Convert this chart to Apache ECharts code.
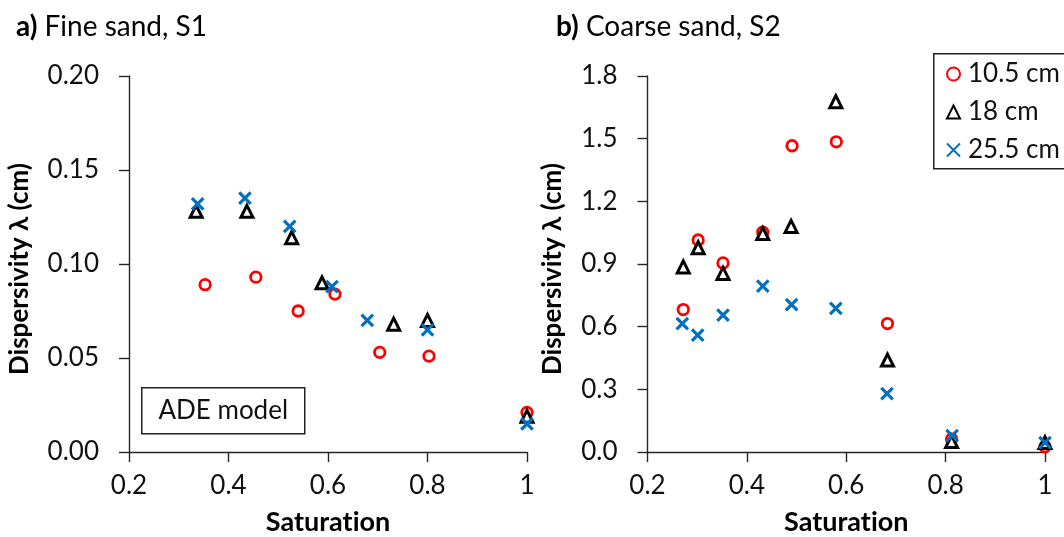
<!DOCTYPE html>
<html>
<head>
<meta charset="utf-8">
<script src="https://cdn.jsdelivr.net/npm/echarts@6/dist/echarts.min.js"></script>
<style>
  html, body { margin: 0; padding: 0; background: #fff; }
  #chart { width: 1064px; height: 537px; }
</style>
</head>
<body>
<div id="chart"></div>
<script>
// Series names (column depth)
const seriesNames = ['10.5 cm', '18 cm', '25.5 cm'];

// a) Fine sand, S1 : saturation / dispersivity (cm)
const fineSat105  = [0.353, 0.455, 0.540, 0.614, 0.704, 0.803, 1.0];
const fineDisp105 = [0.089, 0.093, 0.075, 0.084, 0.053, 0.051, 0.021];
const fineSat18   = [0.335, 0.437, 0.527, 0.588, 0.732, 0.800, 1.0];
const fineDisp18  = [0.128, 0.128, 0.114, 0.090, 0.068, 0.070, 0.019];
const fineSat255  = [0.338, 0.433, 0.523, 0.608, 0.679, 0.800, 1.0];
const fineDisp255 = [0.132, 0.135, 0.120, 0.088, 0.070, 0.065, 0.015];

// b) Coarse sand, S2 : saturation / dispersivity (cm)
const coarseSat105  = [0.272, 0.302, 0.352, 0.432, 0.491, 0.580, 0.683, 0.812, 1.0];
const coarseDisp105 = [0.682, 1.015, 0.905, 1.052, 1.466, 1.485, 0.615, 0.062, 0.025];
const coarseSat18   = [0.272, 0.302, 0.352, 0.432, 0.489, 0.579, 0.683, 0.812, 1.0];
const coarseDisp18  = [0.886, 0.978, 0.855, 1.046, 1.080, 1.677, 0.440, 0.050, 0.045];
const coarseSat255  = [0.270, 0.301, 0.352, 0.432, 0.490, 0.579, 0.682, 0.813, 1.0];
const coarseDisp255 = [0.615, 0.559, 0.655, 0.794, 0.705, 0.688, 0.280, 0.078, 0.045];

// Axis ticks
const satTicks = [0.2, 0.4, 0.6, 0.8, 1];
const fineTicks = [0.00, 0.05, 0.10, 0.15, 0.20];
const coarseTicks = [0.0, 0.3, 0.6, 0.9, 1.2, 1.5, 1.8];

const pairs = (xs, ys) => xs.map((x, i) => [x, ys[i]]);

const FONT = 'Lato, "Open Sans", sans-serif';
const AXIS_COLOR = '#262626';
const TEXT_COLOR = '#111';

const markerStyles = [
  { symbol: 'circle', symbolSize: 10.5,
    itemStyle: { color: '#ffffff', borderColor: '#ff0000', borderWidth: 2.8, opacity: 1 } },
  { symbol: 'triangle', symbolSize: 12,
    itemStyle: { color: '#ffffff', borderColor: '#000000', borderWidth: 3, opacity: 1 } },
  { symbol: 'path://M0,0L10,10M10,0L0,10', symbolSize: 11.5,
    itemStyle: { color: '#0070c0', borderColor: '#0070c0', borderWidth: 3.2, opacity: 1 } }
];

function xAxisFor(gridIndex) {
  return {
    type: 'value', gridIndex,
    min: satTicks[0], max: satTicks[satTicks.length - 1], interval: 0.2,
    // zero-width non-joiner keeps "t" and "i" as separate glyphs
    name: 'Saturat\u200Cion', nameLocation: 'middle', nameGap: 57,
    nameTextStyle: { fontFamily: FONT, fontSize: 27, fontWeight: 'bold', color: '#000' },
    axisLine: { lineStyle: { color: AXIS_COLOR, width: 1.4 } },
    axisTick: { inside: false, length: 10, lineStyle: { color: AXIS_COLOR, width: 1.4 } },
    axisLabel: {
      margin: 21, fontFamily: FONT, fontSize: 26, color: TEXT_COLOR,
      formatter: v => String(parseFloat(v.toFixed(1)))
    },
    splitLine: { show: false }
  };
}

function yAxisFor(gridIndex, ticks, decimals, nameGap) {
  return {
    type: 'value', gridIndex,
    min: ticks[0], max: ticks[ticks.length - 1], interval: ticks[1] - ticks[0],
    name: 'Dispersivity λ (cm)', nameLocation: 'middle', nameGap,
    nameTextStyle: { fontFamily: FONT, fontSize: 26, fontWeight: 'bold', color: '#000', padding: [0, 10, 0, 0] },
    axisLine: { show: true, lineStyle: { color: AXIS_COLOR, width: 1.4 } },
    axisTick: { show: true, inside: false, length: 10, lineStyle: { color: AXIS_COLOR, width: 1.4 } },
    axisLabel: {
      margin: 30, fontFamily: FONT, fontSize: 26, color: TEXT_COLOR,
      formatter: v => v.toFixed(decimals)
    },
    splitLine: { show: false }
  };
}

const fineData = [pairs(fineSat105, fineDisp105), pairs(fineSat18, fineDisp18), pairs(fineSat255, fineDisp255)];
const coarseData = [pairs(coarseSat105, coarseDisp105), pairs(coarseSat18, coarseDisp18), pairs(coarseSat255, coarseDisp255)];

const series = [];
[fineData, coarseData].forEach((panel, p) => {
  panel.forEach((data, i) => {
    series.push(Object.assign({
      type: 'scatter', name: seriesNames[i],
      xAxisIndex: p, yAxisIndex: p, data,
      z: 2 + i, emphasis: { disabled: true }
    }, markerStyles[i]));
  });
});

const chart = echarts.init(document.getElementById('chart'), null, { renderer: 'canvas' });
chart.setOption({
  animation: false,
  backgroundColor: '#ffffff',
  textStyle: { fontFamily: FONT },
  title: [
    { text: '{b|a)} Fine sand, S1', left: 11, top: 8,
      textStyle: { fontFamily: FONT, fontSize: 28, fontWeight: 'normal', color: '#000',
        rich: { b: { fontFamily: FONT, fontSize: 28, fontWeight: 'bold', color: '#000' } } } },
    { text: '{b|b)} Coarse sand, S2', left: 551, top: 8,
      textStyle: { fontFamily: FONT, fontSize: 28, fontWeight: 'normal', color: '#000',
        rich: { b: { fontFamily: FONT, fontSize: 28, fontWeight: 'bold', color: '#000' } } } }
  ],
  legend: {
    orient: 'vertical', left: 933, top: 53,
    data: seriesNames,
    itemWidth: 13, itemHeight: 13, itemGap: 8,
    padding: [6, 0, 6, 13],
    selectedMode: false,
    itemStyle: { opacity: 1 },
    textStyle: { fontFamily: FONT, fontSize: 26, color: TEXT_COLOR, lineHeight: 30, padding: [0, 0, 0, 3] }
  },
  grid: [
    { left: 129, top: 76, width: 398, height: 376, outerBoundsMode: 'none', containLabel: false },
    { left: 647.5, top: 76, width: 397.5, height: 376, outerBoundsMode: 'none', containLabel: false }
  ],
  xAxis: [xAxisFor(0), xAxisFor(1)],
  yAxis: [yAxisFor(0, fineTicks, 2, 96), yAxisFor(1, coarseTicks, 1, 82)],
  graphic: [
    // legend frame, running past the right edge of the canvas
    { type: 'rect', left: 933, top: 53, z: -1,
      shape: { x: 0, y: 0, width: 160, height: 115 },
      style: { fill: '#fff', stroke: '#222', lineWidth: 1.5 } },
    { type: 'group', left: 141, top: 387, children: [
      { type: 'rect', shape: { x: 0, y: 0, width: 163, height: 46 },
        style: { fill: '#fff', stroke: '#222', lineWidth: 1.5 } },
      { type: 'text', x: 81.5, y: 23,
        style: { text: 'ADE model', font: '26px ' + FONT, fill: TEXT_COLOR, align: 'center', verticalAlign: 'middle' } }
    ] }
  ],
  series
});
</script>
</body>
</html>
